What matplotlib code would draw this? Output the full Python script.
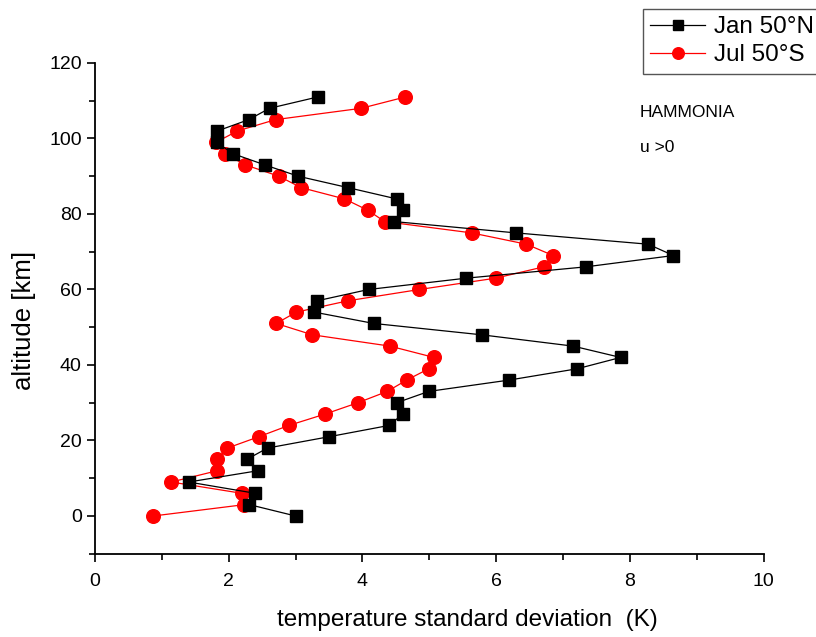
import numpy as np
import matplotlib.pyplot as plt
from matplotlib.ticker import MultipleLocator

plt.rcParams['font.family'] = ['Liberation Sans', 'DejaVu Sans']

# altitude levels (km)
alt = np.arange(0, 112, 3)

# Jan 50N
jan_50n = [3.00, 2.31, 2.40, 1.40, 2.44, 2.27, 2.58, 3.50, 4.40, 4.60,
           4.51, 4.99, 6.19, 7.21, 7.86, 7.15, 5.78, 4.17, 3.28, 3.32,
           4.09, 5.55, 7.34, 8.65, 8.27, 6.29, 4.47, 4.61, 4.51, 3.78,
           3.04, 2.54, 2.06, 1.82, 1.83, 2.30, 2.61, 3.33]

# Jul 50S
jul_50s = [0.87, 2.23, 2.20, 1.14, 1.83, 1.83, 1.98, 2.45, 2.90, 3.44,
           3.93, 4.37, 4.66, 4.99, 5.07, 4.41, 3.25, 2.71, 3.01, 3.78,
           4.85, 5.99, 6.71, 6.85, 6.45, 5.63, 4.33, 4.08, 3.73, 3.08,
           2.75, 2.25, 1.94, 1.81, 2.13, 2.70, 3.98, 4.64]

fig = plt.figure(figsize=(8.16, 6.37), dpi=100)
ax = fig.add_axes([0.1164, 0.1307, 0.8196, 0.7704])

ax.plot(jan_50n, alt, color='black', lw=0.9, marker='s', ms=8.5,
        label='Jan 50°N', zorder=3)
ax.plot(jul_50s, alt, color='red', lw=0.9, marker='o', ms=9.8,
        label='Jul 50°S', zorder=2)

ax.set_xlim(0, 10)
ax.set_ylim(-10, 120)
ax.xaxis.set_major_locator(MultipleLocator(2))
ax.xaxis.set_minor_locator(MultipleLocator(1))
ax.yaxis.set_major_locator(MultipleLocator(20))
ax.yaxis.set_minor_locator(MultipleLocator(10))
ax.tick_params(which='both', direction='out', width=1.2, labelsize=14)
ax.tick_params(which='major', length=6)
ax.tick_params(which='minor', length=4)
ax.tick_params(axis='x', pad=8)
ax.spines['top'].set_visible(False)
ax.spines['right'].set_visible(False)
ax.spines['left'].set_linewidth(1.3)
ax.spines['bottom'].set_linewidth(1.3)

ax.set_xlabel('temperature standard deviation  (K)', fontsize=17.5, va='center')
ax.xaxis.set_label_coords(0.557, -0.135)
ax.set_ylabel('altitude [km]', fontsize=18.5)
ax.yaxis.set_label_coords(-0.088, 0.4745)

fig.text(0.784, 0.824, 'HAMMONIA', fontsize=12.5, va='center')
fig.text(0.784, 0.769, 'u >0', fontsize=12.5, va='center')

fig.legend(loc='upper right', bbox_to_anchor=(1.006, 0.986), fontsize=17.5,
           frameon=True, fancybox=False, edgecolor='#555555', framealpha=1,
           handlelength=2.25, borderpad=0.3, labelspacing=0.25,
           handletextpad=0.35, borderaxespad=0.0, markerscale=0.85)

fig.savefig('out.png', dpi=100)
